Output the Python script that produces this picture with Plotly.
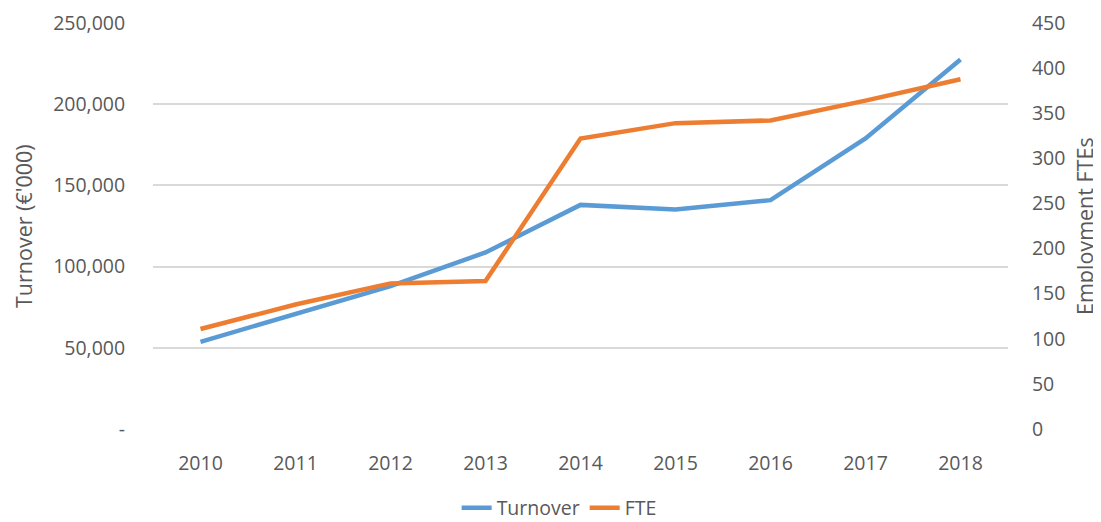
import plotly.graph_objects as go

years = ["2010", "2011", "2012", "2013", "2014", "2015", "2016", "2017", "2018"]
turnover = [53700, 71200, 88000, 108700, 138000, 135200, 140900, 178900, 227500]
fte = [110.8, 138, 161.4, 164, 322, 339, 342, 364, 387.6]

left_ticks = [0, 50000, 100000, 150000, 200000, 250000]
left_labels = ["-", "50,000", "100,000", "150,000", "200,000", "250,000"]
right_ticks = [0, 50, 100, 150, 200, 250, 300, 350, 400, 450]

FONT = "Open Sans"
GREY = "#595959"
FS = 19.5
TFS = 21.5

# the page body adds an 8px offset; the figure is sized to compensate
OFF = 8
W, H = 1101 - OFF, 522 - OFF
L, R, T, B = 153 - OFF, 93, 23 - OFF, 93
plot_w = W - L - R
plot_h = H - T - B

fig = go.Figure()
fig.add_trace(go.Scatter(x=years, y=turnover, name="Turnover", mode="lines",
                         line=dict(color="#5B9BD5", width=4.5), yaxis="y"))
fig.add_trace(go.Scatter(x=years, y=fte, name="FTE", mode="lines",
                         line=dict(color="#ED7D31", width=4.5), yaxis="y2"))

fig.update_layout(
    width=W, height=H,
    margin=dict(l=L, r=R, t=T, b=B, autoexpand=False),
    paper_bgcolor="white", plot_bgcolor="white",
    font=dict(family=FONT, size=FS, color=GREY),
    showlegend=True,
    legend=dict(orientation="h", x=0.475, xanchor="center", y=-0.195, yanchor="middle",
                font=dict(size=FS, color=GREY), tracegroupgap=0),
    xaxis=dict(type="category", range=[-0.5, 8.5], showgrid=False, zeroline=False,
               showline=False, ticks="outside", ticklen=17, tickcolor="rgba(0,0,0,0)",
               tickfont=dict(size=FS, color=GREY), automargin=False),
    yaxis=dict(range=[0, 250000], tickvals=left_ticks, ticktext=left_labels,
               showgrid=True, gridcolor="#D9D9D9", gridwidth=1.5, zeroline=False,
               showline=False, ticks="outside", ticklen=23, tickcolor="rgba(0,0,0,0)",
               tickfont=dict(size=FS, color=GREY), automargin=False),
    yaxis2=dict(range=[0, 450], tickvals=right_ticks, overlaying="y", side="right",
                showgrid=False, zeroline=False, showline=False, ticks="outside",
                ticklen=19, tickcolor="rgba(0,0,0,0)",
                tickfont=dict(size=FS, color=GREY), automargin=False),
    annotations=[
        dict(text="Turnover (€'000)", textangle=-90, x=(23 - 153) / plot_w, y=0.5,
             xref="paper", yref="paper", showarrow=False,
             font=dict(size=TFS, color=GREY), xanchor="center", yanchor="middle"),
        dict(text="Employment FTEs", textangle=-90, x=(1084 - 153) / plot_w, y=0.5,
             xref="paper", yref="paper", showarrow=False,
             font=dict(size=TFS, color=GREY), xanchor="center", yanchor="middle"),
    ],
)

fig.write_html("out.html")
